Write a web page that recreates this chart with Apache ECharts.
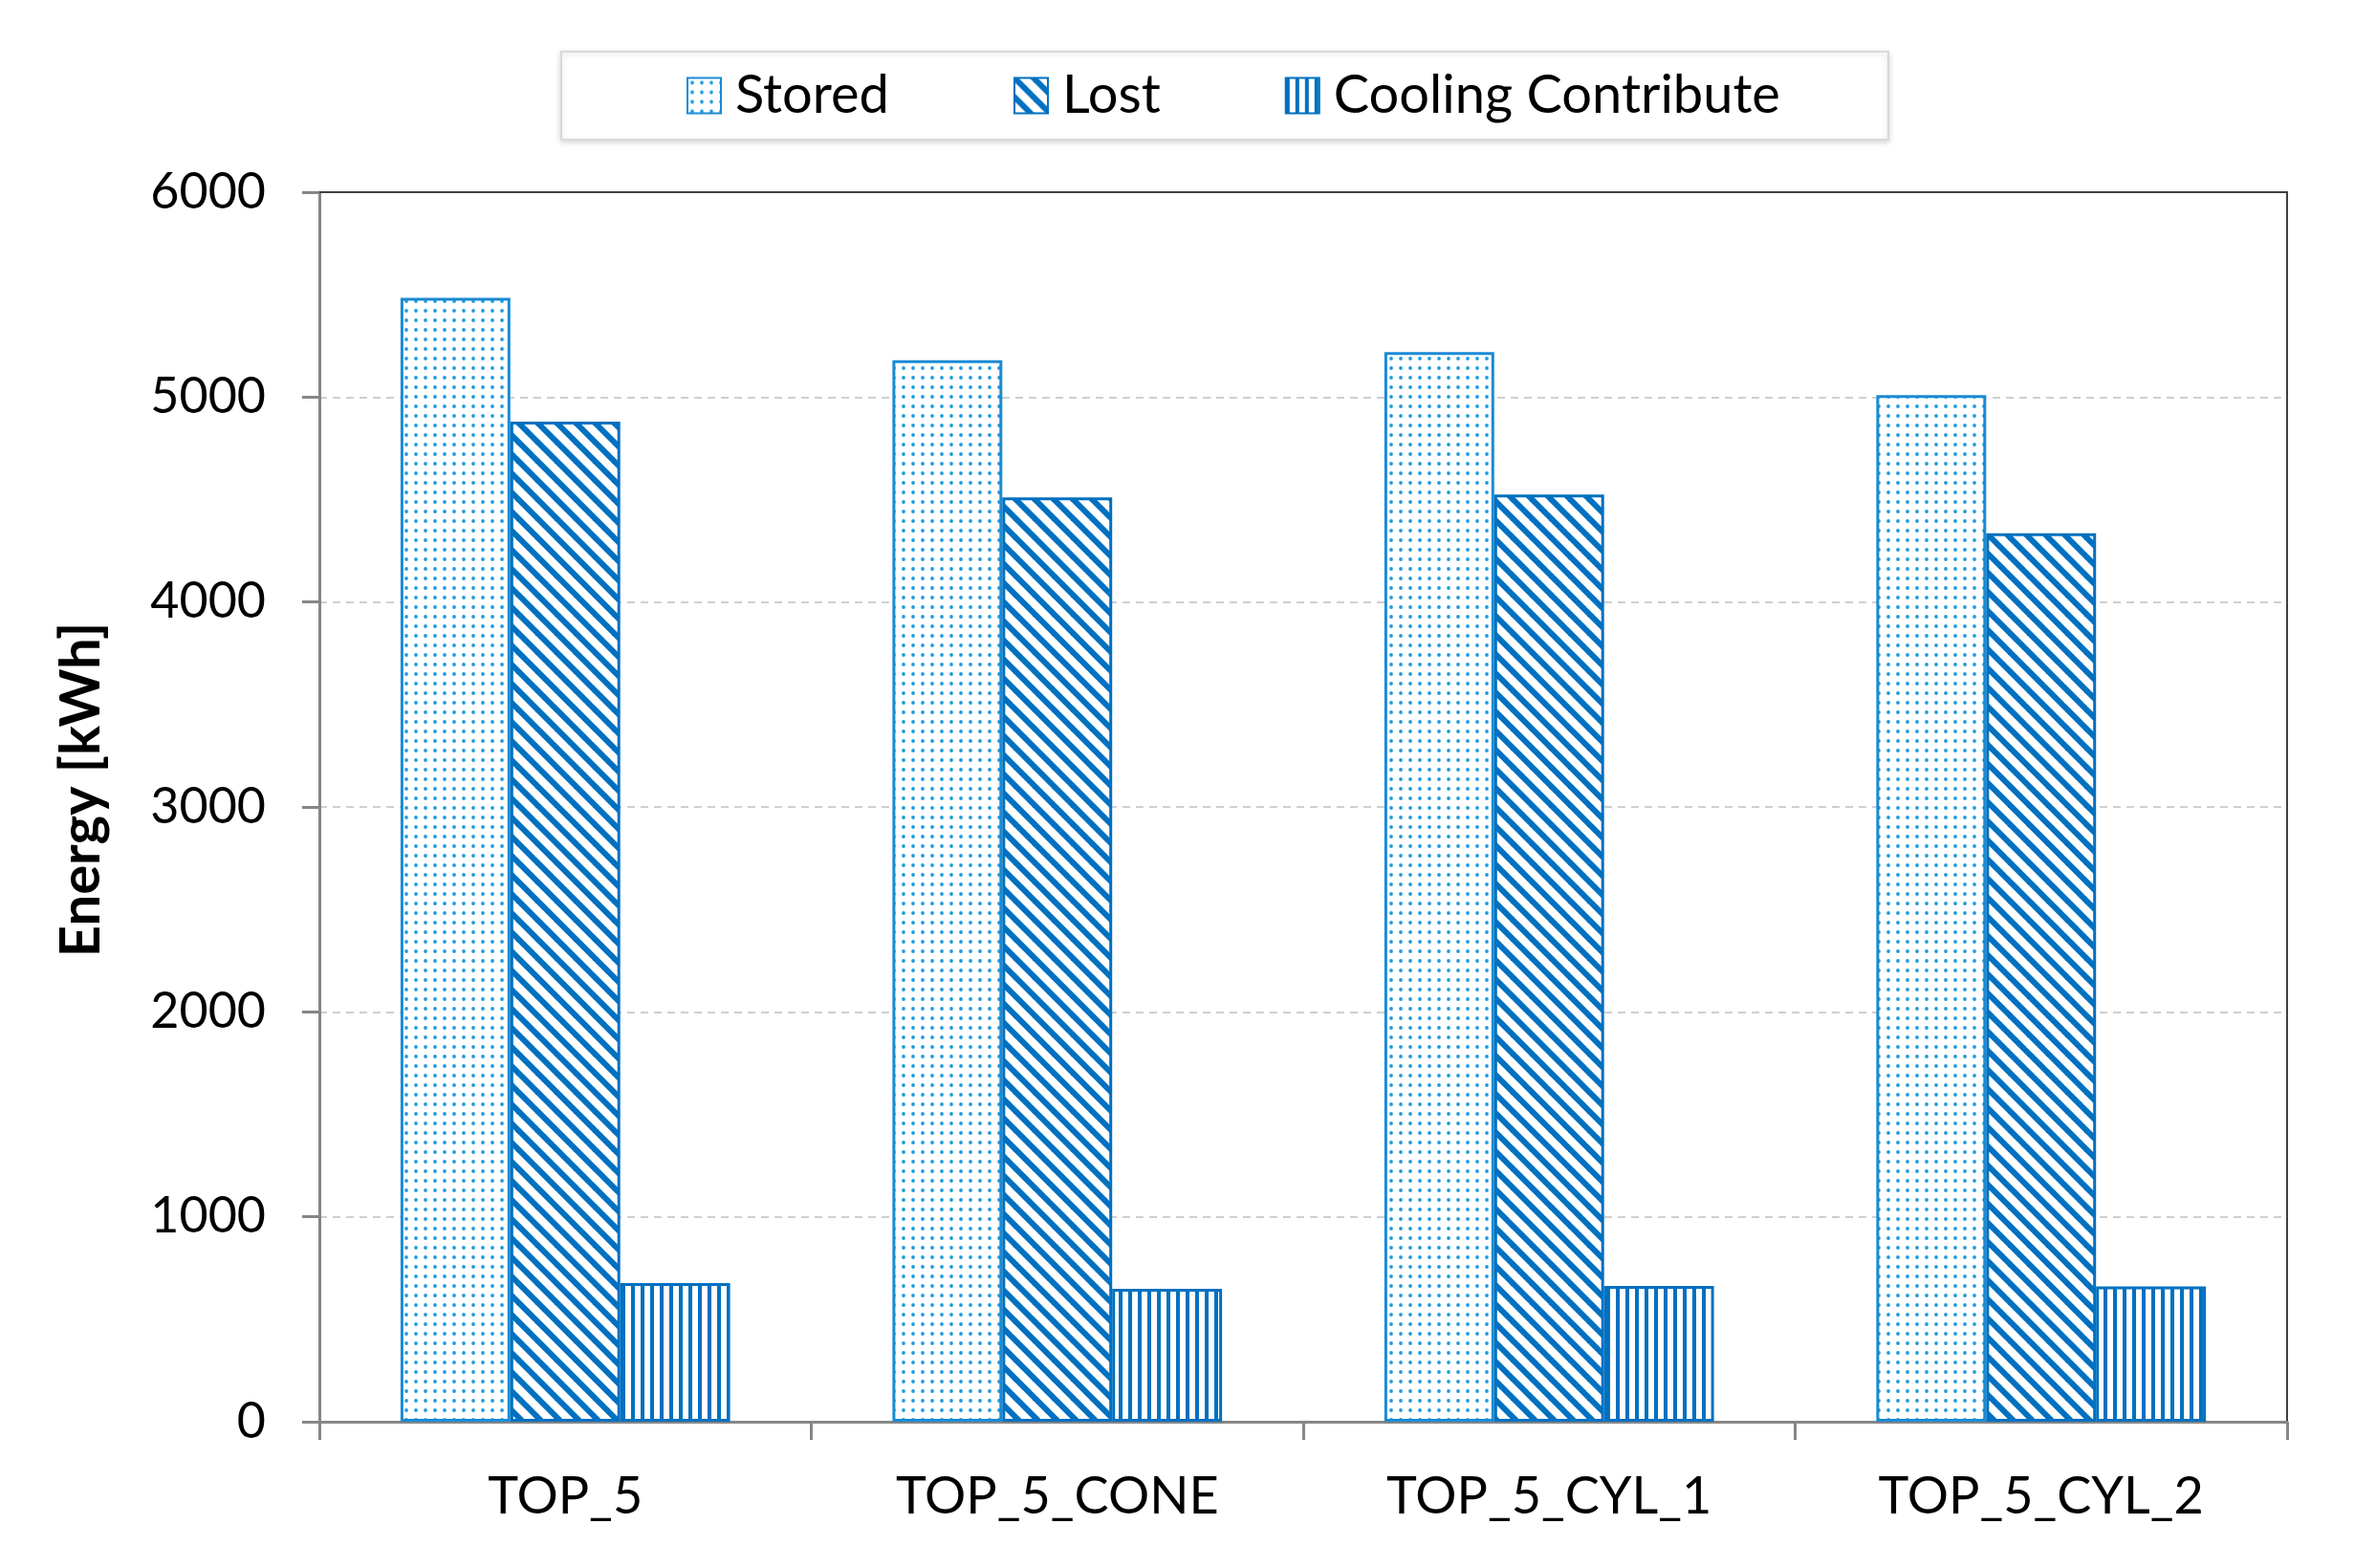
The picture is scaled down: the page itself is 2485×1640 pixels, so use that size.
<!DOCTYPE html>
<html>
<head>
<meta charset="utf-8">
<script src="https://cdn.jsdelivr.net/npm/echarts@6/dist/echarts.min.js"></script>
<style>
html,body{margin:0;padding:0;background:#fff;}
#chart{width:2485px;height:1640px;}
</style>
</head>
<body>
<div id="chart"></div>
<script>
// ---- data ----
const categories = ['TOP_5', 'TOP_5_CONE', 'TOP_5_CYL_1', 'TOP_5_CYL_2'];
const seriesNames = ['Stored', 'Lost', 'Cooling Contribute'];
const storedValues = [5485, 5180, 5220, 5010];
const lostValues = [4880, 4510, 4525, 4335];
const coolingValues = [676, 648, 662, 660];
const yTicks = { min: 0, max: 6000, interval: 1000 };
const yTitle = 'Energy [kWh]';

// ---- patterns ----
function dotPattern() {
  const c = document.createElement('canvas');
  c.width = 10; c.height = 10;
  const g = c.getContext('2d');
  g.fillStyle = '#ffffff'; g.fillRect(0, 0, 10, 10);
  g.fillStyle = '#1f9be0';
  g.beginPath(); g.arc(5, 5, 1.9, 0, Math.PI * 2); g.fill();
  return c;
}
function diagPattern() {
  const s = 20;
  const c = document.createElement('canvas');
  c.width = s; c.height = s;
  const g = c.getContext('2d');
  g.fillStyle = '#ffffff'; g.fillRect(0, 0, s, s);
  g.strokeStyle = '#0070c0'; g.lineWidth = 6;
  const segs = [[-5, -5, s + 5, s + 5], [-5, s - 5, 5, s + 5], [s - 5, -5, s + 5, 5]];
  segs.forEach(p => { g.beginPath(); g.moveTo(p[0], p[1]); g.lineTo(p[2], p[3]); g.stroke(); });
  return c;
}
function vertPattern() {
  const c = document.createElement('canvas');
  c.width = 10; c.height = 10;
  const g = c.getContext('2d');
  g.fillStyle = '#ffffff'; g.fillRect(0, 0, 10, 10);
  g.fillStyle = '#0070c0'; g.fillRect(0, 0, 4, 10);
  return c;
}

const FONT = 'Lato, "Open Sans", sans-serif';
const chart = echarts.init(document.getElementById('chart'), null, { renderer: 'canvas' });

const frameLine = { show: true, onZero: false, lineStyle: { color: '#404040', width: 2 } };

const option = {
  backgroundColor: '#ffffff',
  animation: false,
  textStyle: { fontFamily: FONT },
  legend: {
    left: 587,
    top: 54,
    padding: [18, 113, 18, 131],
    itemGap: 130,
    itemWidth: 35,
    itemHeight: 37,
    icon: 'rect',
    backgroundColor: '#ffffff',
    borderColor: '#d9d9d9',
    borderWidth: 2,
    shadowColor: 'rgba(0,0,0,0.15)',
    shadowBlur: 6,
    shadowOffsetY: 2,
    textStyle: { fontFamily: FONT, fontSize: 56, color: '#000', padding: [0, 0, 0, 10] },
    data: seriesNames
  },
  grid: {
    left: 334, right: 93, top: 201, bottom: 153,
    show: false
  },
  xAxis: [
    {
      type: 'category',
      data: categories,
      boundaryGap: true,
      axisLine: { show: true, lineStyle: { color: '#868686', width: 3 } },
      axisTick: { show: true, alignWithLabel: false, length: 19, lineStyle: { color: '#868686', width: 3 } },
      axisLabel: { fontFamily: FONT, fontSize: 54, color: '#000', margin: 52 },
      splitLine: { show: false }
    },
    {
      type: 'category',
      data: categories,
      position: 'top',
      axisLine: frameLine,
      axisTick: { show: false },
      axisLabel: { show: false },
      splitLine: { show: false }
    }
  ],
  yAxis: [
    {
      type: 'value',
      min: yTicks.min, max: yTicks.max, interval: yTicks.interval,
      name: yTitle,
      nameLocation: 'middle',
      nameGap: 220,
      nameTextStyle: { fontFamily: FONT, fontSize: 58, fontWeight: 'bold', color: '#000', padding: [0, 0, 0, 36] },
      axisLine: { show: true, lineStyle: { color: '#868686', width: 3 } },
      axisTick: { show: true, inside: false, length: 18, lineStyle: { color: '#868686', width: 3 } },
      axisLabel: { fontFamily: FONT, fontSize: 52, color: '#000', margin: 56, formatter: v => String(v) },
      splitLine: { show: true, lineStyle: { color: '#cfcfcf', width: 2, type: [8, 6] } }
    },
    {
      type: 'value',
      min: yTicks.min, max: yTicks.max, interval: yTicks.interval,
      position: 'right',
      axisLine: frameLine,
      axisTick: { show: false },
      axisLabel: { show: false },
      splitLine: { show: false }
    }
  ],
  series: [
    {
      name: seriesNames[0], type: 'bar', data: storedValues,
      barGap: '0%', barCategoryGap: '33%',
      itemStyle: { color: { image: dotPattern(), repeat: 'repeat' }, borderColor: '#1a8ad4', borderWidth: 3 }
    },
    {
      name: seriesNames[1], type: 'bar', data: lostValues,
      barGap: '0%', barCategoryGap: '33%',
      itemStyle: { color: { image: diagPattern(), repeat: 'repeat' }, borderColor: '#0070c0', borderWidth: 3 }
    },
    {
      name: seriesNames[2], type: 'bar', data: coolingValues,
      barGap: '0%', barCategoryGap: '33%',
      itemStyle: { color: { image: vertPattern(), repeat: 'repeat' }, borderColor: '#0070c0', borderWidth: 3 }
    }
  ]
};
chart.setOption(option);
</script>
</body>
</html>
